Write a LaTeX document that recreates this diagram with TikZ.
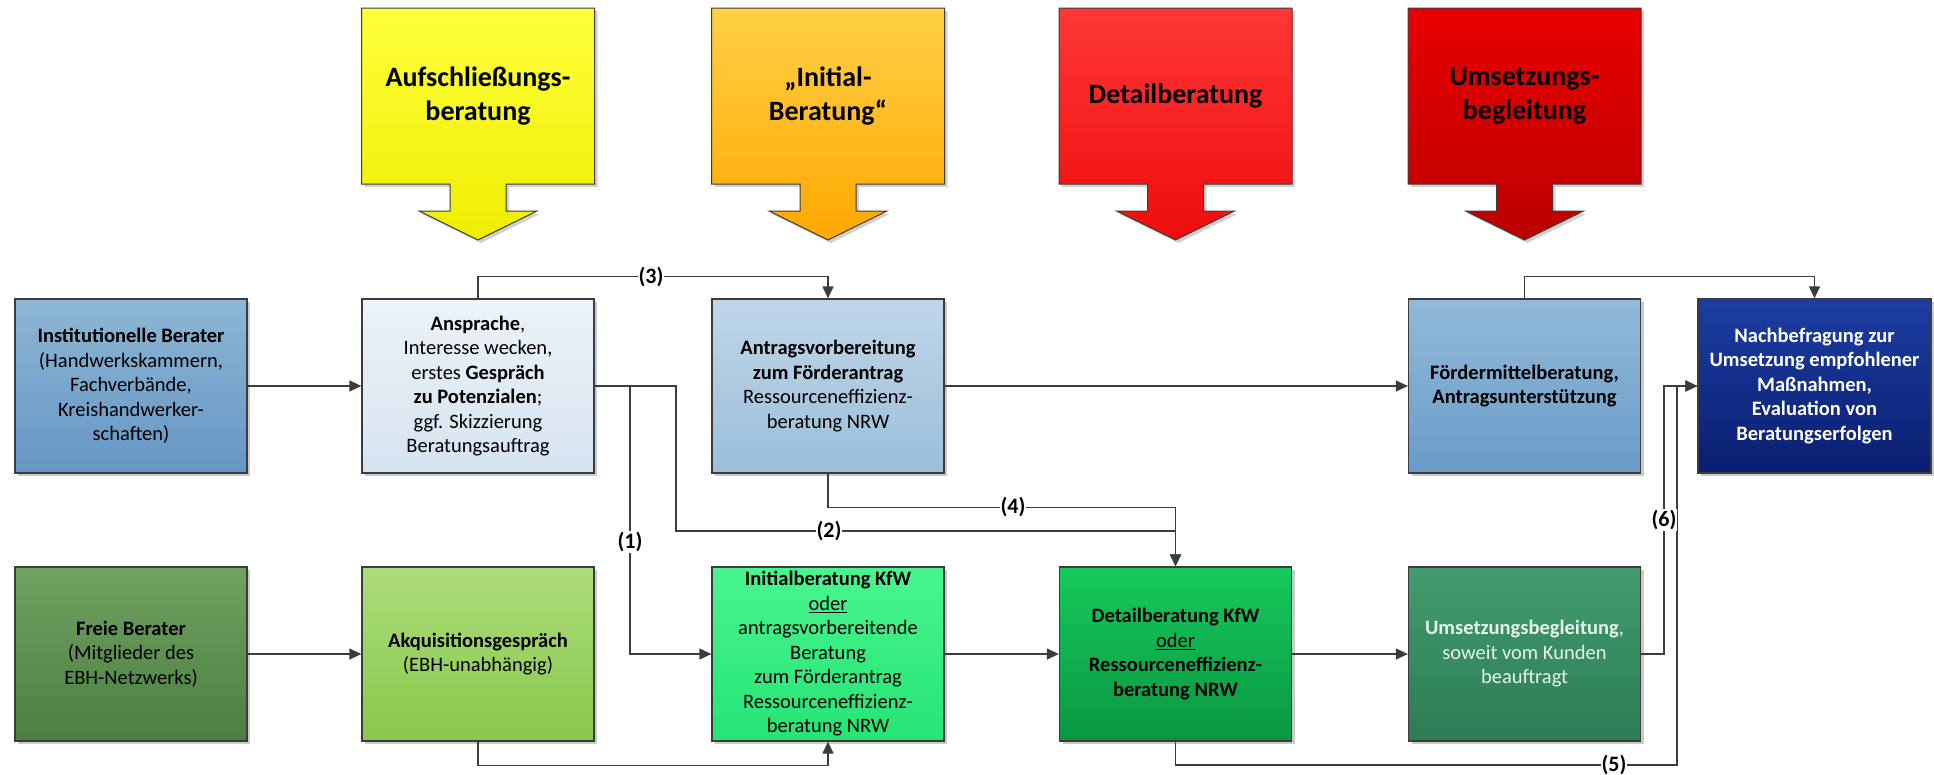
\documentclass[tikz,border=0pt]{standalone}
\usepackage{fontspec}
\setmainfont{Carlito}
\usetikzlibrary{shadows,arrows.meta}
\definecolor{lc}{RGB}{60,60,60}
\begin{document}
\begin{tikzpicture}[x=1pt,y=-1pt,
  box/.style={draw=lc, line width=1.3pt, minimum width=232pt, minimum height=174pt,
    align=center, inner sep=2pt, font=\fontsize{20.5}{24.5}\selectfont,
    drop shadow={shadow xshift=3pt, shadow yshift=-3pt, opacity=0.35, fill=black!60}},
  hdr/.style={draw=lc, line width=1pt,
    drop shadow={shadow xshift=3pt, shadow yshift=-3pt, opacity=0.3, fill=black!60}},
  htext/.style={font=\bfseries\fontsize{28}{34}\selectfont, align=center},
  conn/.style={draw=lc, line width=1.3pt},
  arr/.style={conn, -{Triangle[length=12pt,width=11pt]}},
  lbl/.style={fill=white, font=\bfseries\fontsize{22}{24}\selectfont, inner sep=1pt}
]
\useasboundingbox (0,0) rectangle (1934,774);

% header arrows
\foreach \cx/\tc/\bc in {478/{255,255,60}/{238,238,0}, 828/{255,208,70}/{255,168,0}, 1175.5/{255,55,55}/{238,12,12}, 1524.5/{232,0,0}/{188,0,0}}{
  \definecolor{tcol}{RGB}{\tc}\definecolor{bcol}{RGB}{\bc}
  \path[hdr, top color=tcol, bottom color=bcol]
    (\cx-116.5,8) -- (\cx+116.5,8) -- (\cx+116.5,184) -- (\cx+28,184) -- (\cx+28,211)
    -- (\cx+59,211) -- (\cx,240) -- (\cx-59,211) -- (\cx-28,211) -- (\cx-28,184)
    -- (\cx-116.5,184) -- cycle;
}
\node[htext] (h1) at (478,96) {Aufschließungs-\\beratung};
\node[htext] (h2) at (828,96) {„Initial-\\Beratung“};
\node[htext] (h3) at (1175.5,96) {Detailberatung};
\node[htext] (h4) at (1524.5,96) {Umsetzungs-\\begleitung};

% boxes row 1
\node[box, top color={rgb,255:red,142;green,182;blue,212}, bottom color={rgb,255:red,100;green,150;blue,196}] (inst) at (131,386)
  {\textbf{Institutionelle Berater}\\(Handwerkskammern,\\Fachverbände,\\Kreishandwerker-\\schaften)};
\node[box, top color={rgb,255:red,236;green,243;blue,249}, bottom color={rgb,255:red,214;green,227;blue,240}] (ansp) at (478,386)
  {\textbf{Ansprache},\\Interesse wecken,\\erstes \textbf{Gespräch}\\\textbf{zu Potenzialen};\\ggf. Skizzierung\\Beratungsauftrag};
\node[box, top color={rgb,255:red,192;green,214;blue,232}, bottom color={rgb,255:red,155;green,190;blue,218}] (antr) at (828,386)
  {\textbf{Antragsvorbereitung}\\\textbf{zum Förderantrag}\\Ressourceneffizienz-\\beratung NRW};
\node[box, top color={rgb,255:red,146;green,186;blue,216}, bottom color={rgb,255:red,105;green,155;blue,200}] (foerd) at (1524.5,386)
  {\textbf{Fördermittelberatung,}\\\textbf{Antragsunterstützung}};
\node[box, minimum width=233pt, text=white, top color={rgb,255:red,28;green,62;blue,162}, bottom color={rgb,255:red,10;green,30;blue,112}] (nach) at (1814.5,386)
  {\textbf{Nachbefragung zur}\\\textbf{Umsetzung empfohlener}\\\textbf{Maßnahmen,}\\\textbf{Evaluation von}\\\textbf{Beratungserfolgen}};

% boxes row 2
\node[box, top color={rgb,255:red,112;green,162;blue,98}, bottom color={rgb,255:red,76;green,126;blue,66}] (freie) at (131,654)
  {\textbf{Freie Berater}\\(Mitglieder des\\EBH-Netzwerks)};
\node[box, top color={rgb,255:red,172;green,220;blue,122}, bottom color={rgb,255:red,136;green,200;blue,76}] (akq) at (478,654)
  {\textbf{Akquisitionsgespräch}\\(EBH-unabhängig)};
\node[box, top color={rgb,255:red,72;green,245;blue,142}, bottom color={rgb,255:red,38;green,228;blue,118}] (init) at (828,654)
  {\textbf{Initialberatung KfW}\\\underline{oder}\\antragsvorbereitende\\Beratung\\zum Förderantrag\\Ressourceneffizienz-\\beratung NRW};
\node[box, top color={rgb,255:red,22;green,202;blue,92}, bottom color={rgb,255:red,10;green,150;blue,66}] (det) at (1175.5,654)
  {\textbf{Detailberatung KfW}\\\underline{oder}\\\textbf{Ressourceneffizienz-}\\\textbf{beratung NRW}};
\node[box, text={rgb,255:red,230;green,245;blue,232}, top color={rgb,255:red,66;green,156;blue,110}, bottom color={rgb,255:red,44;green,124;blue,84}] (ums) at (1524.5,654)
  {\textbf{Umsetzungsbegleitung},\\soweit vom Kunden\\beauftragt};

% junction coordinates
\coordinate (j1) at (630,386);
\coordinate (j2) at (676,531);
\coordinate (j5) at (1677,765);
\coordinate (j6) at (1664,654);

% connectors
\draw[arr] (inst) -- (ansp);
\draw[arr] (freie) -- (akq);
\draw[arr] (antr) -- (foerd);
\draw[arr] (init) -- (det);
\draw[arr] (det) -- (ums);
\draw[arr] (ansp.north) -- ++(0,-22) -| (antr.north);
\draw[arr] (foerd.north) -- ++(0,-22) -| (nach.north);
\draw[arr] (ansp.east) -| (j2) -| (det.north);
\draw[arr] (j1) |- (init.west);
\draw[arr] (antr.south) -- ++(0,34) -| (det.north);
\draw[arr] (akq.south) -- ++(0,24) -| (init.south);
\draw[arr] (det.south) |- (j5) |- (nach.west);
\draw[arr] (ums.east) -- (j6) |- (nach.west);

% labels
\node[lbl] (l1) at (630,542) {(1)};
\node[lbl] (l2) at (829,531) {(2)};
\node[lbl] (l3) at (651,277) {(3)};
\node[lbl] (l4) at (1013,507) {(4)};
\node[lbl] (l5) at (1614,765) {(5)};
\node[lbl] (l6) at (1664,520) {(6)};
\end{tikzpicture}
\end{document}
